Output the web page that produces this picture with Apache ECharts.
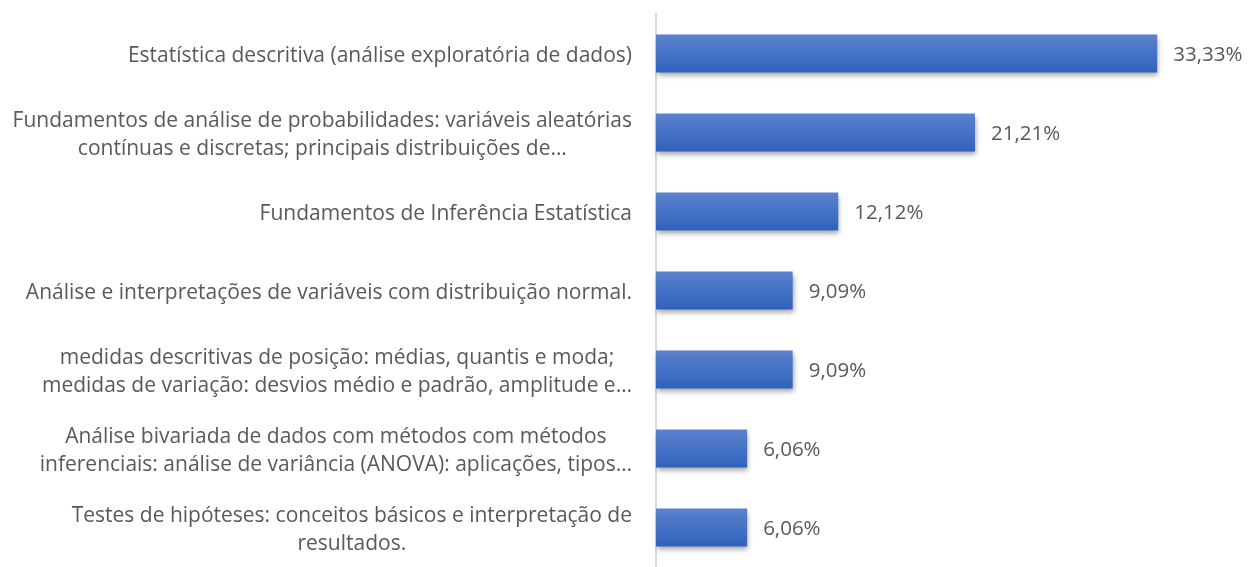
<!DOCTYPE html>
<html>
<head>
<meta charset="utf-8">
<script src="https://cdn.jsdelivr.net/npm/echarts@6/dist/echarts.min.js"></script>
<style>
  html, body { margin: 0; padding: 0; background: #fff; }
  #chart { width: 1250px; height: 567px; }
</style>
</head>
<body>
<div id="chart"></div>
<script>
// categorias (de cima para baixo)
const categories = [
  'Estatística descritiva (análise exploratória de dados)',
  'Fundamentos de análise de probabilidades: variáveis aleatórias\ncontínuas e discretas; principais distribuições de…',
  'Fundamentos de Inferência Estatística',
  'Análise e interpretações de variáveis com distribuição normal.',
  'medidas descritivas de posição: médias, quantis e moda;\nmedidas de variação: desvios médio e padrão, amplitude e…',
  'Análise bivariada de dados com métodos com métodos\ninferenciais: análise de variância (ANOVA): aplicações, tipos…',
  'Testes de hipóteses: conceitos básicos e interpretação de\nresultados.'
]
const values = [33.33, 21.21, 12.12, 9.09, 9.09, 6.06, 6.06]

const textColor = '#595959'
const fontFamily = '"Open Sans", "Liberation Sans", sans-serif'

const chart = echarts.init(document.getElementById('chart'))

const option = {
  animation: false,
  grid: {
    left: 656,
    top: 14,
    right: 0,
    height: 560
  },
  xAxis: {
    type: 'value',
    min: 0,
    max: 39.5,
    show: false
  },
  yAxis: {
    type: 'category',
    inverse: true,
    data: categories,
    axisLine: { show: true, lineStyle: { color: '#d9d9d9', width: 2 } },
    axisTick: { show: false },
    axisLabel: {
      margin: 24,
      padding: [5, 0, 0, 0],
      color: textColor,
      fontFamily,
      fontSize: 21,
      lineHeight: 28,
      // linhas centradas dentro do bloco alinhado à direita
      formatter: v => v.split('\n').map(l => '{c|' + l + '}').join('\n'),
      rich: {
        c: { align: 'center', color: textColor, fontFamily, fontSize: 21, lineHeight: 28 }
      }
    }
  },
  series: [{
    type: 'bar',
    data: values,
    barWidth: 38,
    itemStyle: {
      color: new echarts.graphic.LinearGradient(0, 0, 0, 1, [
        { offset: 0, color: '#5b82cd' },
        { offset: 1, color: '#2f62bd' }
      ]),
      shadowColor: 'rgba(0,0,0,0.35)',
      shadowBlur: 5,
      shadowOffsetX: 1,
      shadowOffsetY: 3
    },
    label: {
      show: true,
      position: 'right',
      distance: 16,
      offset: [0, 2],
      color: textColor,
      fontFamily,
      fontSize: 20.5,
      formatter: p => p.value.toFixed(2).replace('.', ',') + '%'
    }
  }]
}

chart.setOption(option)
</script>
</body>
</html>
